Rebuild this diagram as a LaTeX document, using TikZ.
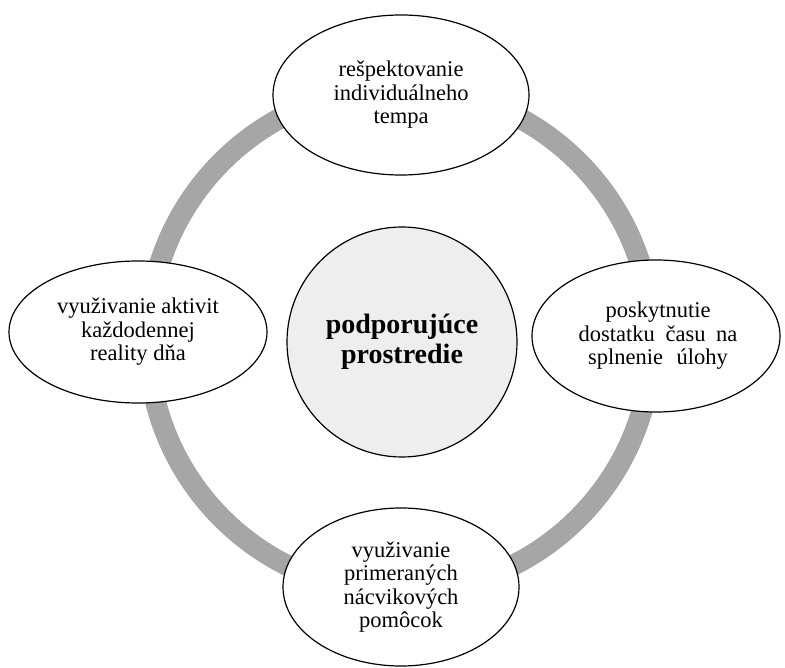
\documentclass[tikz,border=0pt]{standalone}
\usepackage{fontspec}
\setmainfont{Liberation Serif}
\newfontfamily\timesx{Liberation Serif}
\usetikzlibrary{shapes.geometric}
\definecolor{ringgray}{HTML}{A6A6A6}
\definecolor{centerfill}{HTML}{EEEEEE}
\tikzset{
  leaf/.style={ellipse, draw=black, line width=1.2pt, fill=white, inner sep=0pt,
    align=center, font=\timesx\fontsize{22.5}{23.5}\selectfont},
  hub/.style={circle, draw=black, line width=1.2pt, fill=centerfill, inner sep=0pt,
    minimum size=230pt, align=center, font=\timesx\fontsize{28}{29.5}\selectfont\bfseries},
  ring/.style={draw=ringgray, line width=21pt}
}
\begin{document}
\begin{tikzpicture}[x=1pt,y=-1pt]
\useasboundingbox (0,0) rectangle (785,668);
\coordinate (ringc) at (400,340);
\draw[ring] (ringc) circle[radius=252];
\node[hub] (hub) at (402,342) {podporujúce\\prostredie};
\node[leaf, minimum width=256pt, minimum height=160pt] (top) at (401,95)
  {rešpektovanie\\individuálneho\\tempa};
\node[leaf, minimum width=258pt, minimum height=142pt] (left) at (138,332)
  {využivanie aktivit\\každodennej\\reality dňa};
\node[leaf, minimum width=248pt, minimum height=152pt] (right) at (656,336)
  {\hspace*{4pt}poskytnutie\\\hspace*{4pt}dostatku\hspace{5pt} času\hspace{5pt} na\\\hspace*{4pt}splnenie\hspace{8pt} úlohy};
\node[leaf, minimum width=236pt, minimum height=158pt] (bottom) at (401,587)
  {využivanie\\primeraných\\nácvikových\\pomôcok};
\end{tikzpicture}
\end{document}
